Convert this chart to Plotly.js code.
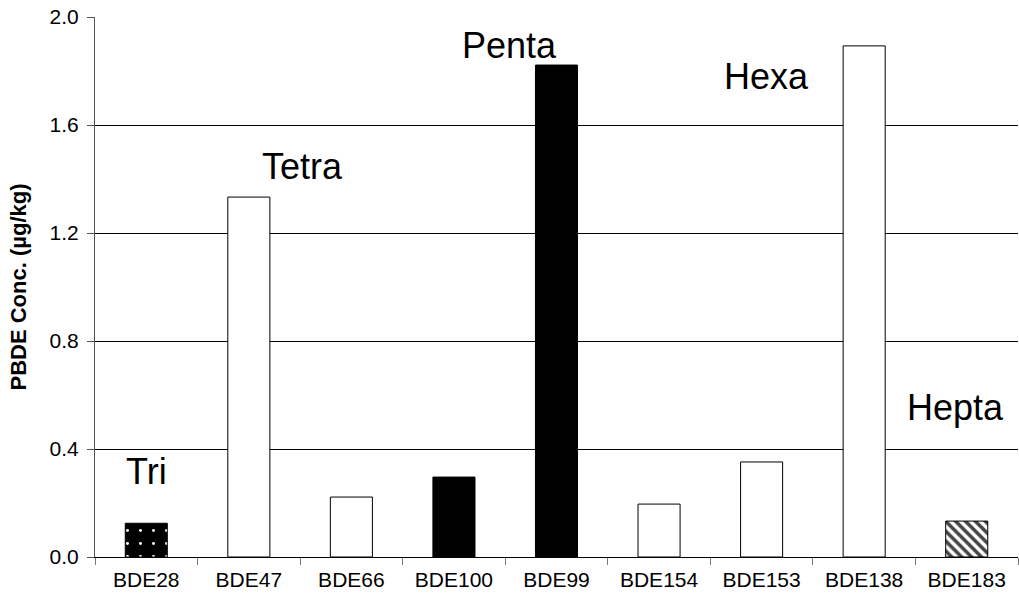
<!DOCTYPE html>
<html><head><meta charset="utf-8">
<script src="https://cdn.plot.ly/plotly-3.0.1.min.js"></script>
<style>html,body{margin:0;padding:0;background:#fff}#c{width:1019px;height:610px}</style>
</head><body><div id="c"></div>
<script>
const categories = ["BDE28","BDE47","BDE66","BDE100","BDE99","BDE154","BDE153","BDE138","BDE183"];
const values = [0.125, 1.333, 0.222, 0.296, 1.822, 0.196, 0.352, 1.893, 0.133];
const fills = ["#000","#fff","#fff","#000","#000","#fff","#fff","#fff","#fff"];
const patterns = [".","","","","","","","","\\"];
const patternFg = ["#fff","#000","#000","#000","#000","#000","#000","#000","#000"];
const patternSize = [13, 8, 8, 8, 8, 8, 8, 8, 7];
const patternSolidity = [0.04, 0.3, 0.3, 0.3, 0.3, 0.3, 0.3, 0.3, 0.5];
const groupLabels = ["Tri","Tetra","Penta","Hexa","Hepta"];
const groupX = [0, 1.52, 3.54, 6.05, 7.89];
const groupY = [0.315, 1.448, 1.896, 1.778, 0.552];
const yTicks = [0, 0.4, 0.8, 1.2, 1.6, 2.0];

const font = "Liberation Sans, Arial, sans-serif";
const trace = {
  type: "bar", x: categories, y: values, width: 0.41,
  marker: {color: fills, line: {color: "#000", width: 1},
    pattern: {shape: patterns, fgcolor: patternFg, fgopacity: 1, size: patternSize, solidity: patternSolidity, fillmode: "overlay"}},
  hoverinfo: "none"
};
const layout = {
  width: 1019, height: 610,
  margin: {l: 95, r: 1, t: 17, b: 53},
  paper_bgcolor: "#fff", plot_bgcolor: "#fff",
  showlegend: false,
  font: {family: font, color: "#000"},
  xaxis: {type: "category", range: [-0.5, 8.5], showgrid: false, showline: true, linecolor: "#000", linewidth: 1,
    tickfont: {size: 21, family: font}, ticks: "outside", ticklen: 7, tickcolor: "#777", tickson: "boundaries",
    ticklabelstandoff: 4, zeroline: false},
  yaxis: {range: [0, 2.0], tickvals: yTicks, ticktext: yTicks.map(v => v.toFixed(1)),
    showgrid: true, gridcolor: "#000", gridwidth: 1, showline: true, linecolor: "#555", linewidth: 1,
    ticks: "outside", ticklen: 7, tickcolor: "#555", tickfont: {size: 21, family: font}, zeroline: false,
    ticklabelstandoff: 4,
    title: {text: "<b>PBDE Conc. (µg/kg)</b>", font: {size: 22, family: font}, standoff: 16}},
  annotations: groupLabels.map((t, i) => ({
    text: t, x: groupX[i], y: groupY[i], xref: "x", yref: "y", showarrow: false,
    font: {size: 36, family: font, color: "#000"}
  }))
};
Plotly.newPlot("c", [trace], layout, {staticPlot: true});
</script></body></html>
